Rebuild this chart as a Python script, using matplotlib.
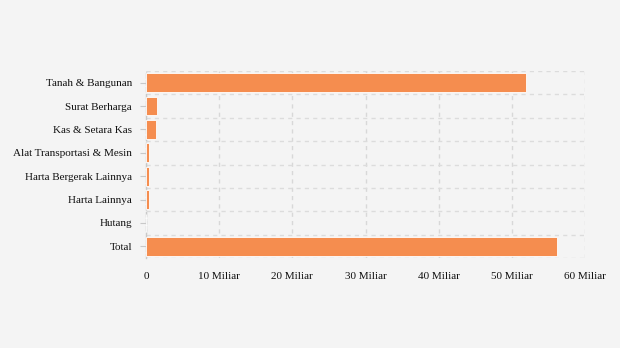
import matplotlib
matplotlib.use("Agg")
import matplotlib.pyplot as plt
import numpy as np

categories = ["Tanah & Bangunan", "Surat Berharga", "Kas & Setara Kas",
              "Alat Transportasi & Mesin", "Harta Bergerak Lainnya",
              "Harta Lainnya", "Hutang", "Total"]
values = [51.9, 1.5, 1.4, 0.4, 0.4, 0.4, 0.0, 56.2]  # Miliar
xticks = [0, 10, 20, 30, 40, 50, 60]
xtick_labels = ["0", "10 Miliar", "20 Miliar", "30 Miliar", "40 Miliar", "50 Miliar", "60 Miliar"]

plt.rcParams['font.family'] = ['Liberation Serif', 'DejaVu Serif']

fig = plt.figure(figsize=(6.2, 3.48), dpi=100)
fig.patch.set_facecolor("#f4f4f4")
ax = fig.add_axes([146/620, 1-258/348, (585-146)/620, (258-71)/348])
ax.set_facecolor("#f4f4f4")

y = np.arange(len(categories))
ax.barh(y, values, height=0.8, color="#f58d4f", edgecolor="white", linewidth=0.6, zorder=3)
ax.set_ylim(len(categories)-0.5, -0.5)
ax.set_xlim(0, 60)
ax.set_yticks(y)
ax.set_yticklabels(categories, fontsize=8, color="#111111")
ax.set_xticks(xticks)
ax.set_xticklabels(xtick_labels, fontsize=8, color="#111111")

# grid: vertical at ticks, horizontal at category boundaries
for xv in xticks:
    ax.axvline(xv, color="#d8d8d8", linestyle=(0, (3, 3)), linewidth=1, zorder=1)
for b in np.arange(-0.5, len(categories), 1.0):
    ax.axhline(b, color="#dcdcdc", linestyle=(0, (3, 3)), linewidth=1, zorder=1)

for s in ["top", "right", "bottom"]:
    ax.spines[s].set_visible(False)
ax.spines["left"].set_color("#c8c8c8")
ax.spines["left"].set_linestyle((0, (3, 2)))
ax.spines["left"].set_linewidth(1)
ax.tick_params(axis="y", length=4, color="#c8c8c8", pad=6)
ax.tick_params(axis="x", length=0, pad=10)

fig.savefig("out.png", dpi=100, facecolor=fig.get_facecolor())
